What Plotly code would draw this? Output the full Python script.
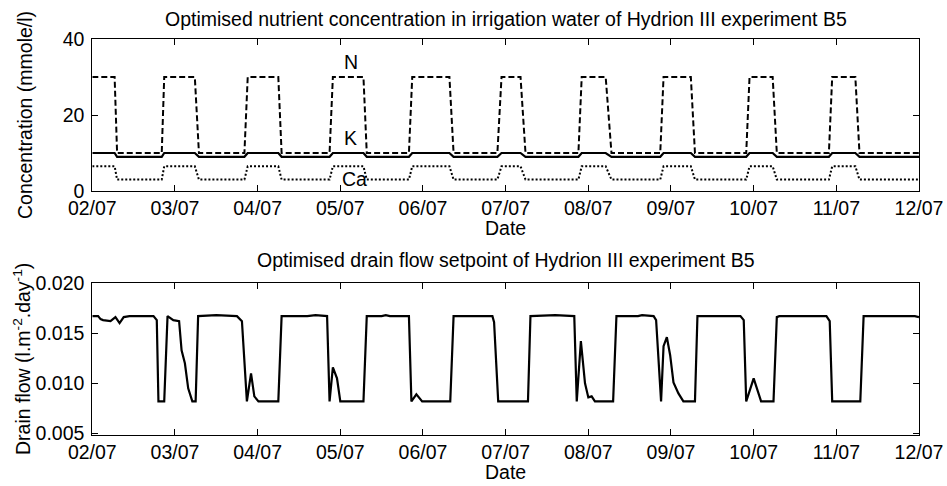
import pandas as pd
import plotly.graph_objects as go

# ---------------- data (days after 02/07 00:00) ----------------
t_top = [0.00, 0.27, 0.30, 0.84, 0.87, 1.24, 1.29, 1.84, 1.88, 2.25,
         2.29, 2.87, 2.91, 3.28, 3.32, 3.83, 3.87, 4.32, 4.37, 4.90,
         4.95, 5.18, 5.24, 5.88, 5.92, 6.21, 6.28, 6.87, 6.91, 7.24,
         7.29, 7.91, 7.95, 8.23, 8.28, 8.91, 8.95, 9.23, 9.28, 10.00]
n_conc = [30, 30, 10, 10, 30, 30, 10, 10, 30, 30,
          10, 10, 30, 30, 10, 10, 30, 30, 10, 10,
          30, 30, 10, 10, 30, 30, 10, 10, 30, 30,
          10, 10, 30, 30, 10, 10, 30, 30, 10, 10]
k_conc = [10, 10, 9, 9, 10, 10, 9, 9, 10, 10,
          9, 9, 10, 10, 9, 9, 10, 10, 9, 9,
          10, 10, 9, 9, 10, 10, 9, 9, 10, 10,
          9, 9, 10, 10, 9, 9, 10, 10, 9, 9]
ca_conc = [6.5, 6.5, 3, 3, 6.5, 6.5, 3, 3, 6.5, 6.5,
           3, 3, 6.5, 6.5, 3, 3, 6.5, 6.5, 3, 3,
           6.5, 6.5, 3, 3, 6.5, 6.5, 3, 3, 6.5, 6.5,
           3, 3, 6.5, 6.5, 3, 3, 6.5, 6.5, 3, 3]

t_flow = [0.00, 0.07, 0.10, 0.13, 0.22, 0.28, 0.33, 0.38, 0.45, 0.60,
          0.74, 0.78, 0.80, 0.87, 0.91, 0.98, 1.05, 1.08, 1.12, 1.16,
          1.21, 1.25, 1.28, 1.50, 1.75, 1.81, 1.87, 1.92, 1.96, 2.01,
          2.25, 2.29, 2.60, 2.70, 2.84, 2.87, 2.91, 2.96, 3.00, 3.28,
          3.32, 3.50, 3.55, 3.60, 3.83, 3.86, 3.92, 3.99, 4.33, 4.37,
          4.60, 4.84, 4.86, 4.91, 5.27, 5.30, 5.60, 5.83, 5.86, 5.91,
          5.96, 6.00, 6.04, 6.08, 6.30, 6.34, 6.60, 6.65, 6.79, 6.82,
          6.88, 6.91, 6.95, 6.99, 7.03, 7.09, 7.15, 7.29, 7.32, 7.50,
          7.84, 7.88, 7.91, 8.00, 8.09, 8.24, 8.28, 8.31, 8.88, 8.92,
          8.95, 9.29, 9.33, 9.60, 9.95, 10.00]
flow = [0.0167, 0.0167, 0.0164, 0.0163, 0.0162, 0.0166, 0.0160, 0.0166, 0.0167, 0.0167,
        0.0167, 0.0163, 0.0082, 0.0082, 0.0167, 0.0163, 0.0162, 0.0133, 0.0120, 0.0095,
        0.0082, 0.0082, 0.0167, 0.0168, 0.0167, 0.0162, 0.0082, 0.0110, 0.0087, 0.0082,
        0.0082, 0.0167, 0.0167, 0.0168, 0.0167, 0.0082, 0.0116, 0.0105, 0.0082, 0.0082,
        0.0167, 0.0167, 0.0168, 0.0167, 0.0167, 0.0082, 0.0089, 0.0082, 0.0082, 0.0167,
        0.0167, 0.0167, 0.0161, 0.0082, 0.0082, 0.0167, 0.0168, 0.0167, 0.0082, 0.0142,
        0.0100, 0.0086, 0.0087, 0.0082, 0.0082, 0.0167, 0.0167, 0.0168, 0.0167, 0.0163,
        0.0082, 0.0137, 0.0146, 0.0128, 0.0101, 0.0090, 0.0082, 0.0082, 0.0167, 0.0167,
        0.0167, 0.0163, 0.0082, 0.0105, 0.0082, 0.0082, 0.0166, 0.0167, 0.0167, 0.0162,
        0.0082, 0.0082, 0.0167, 0.0167, 0.0167, 0.0166]

start_date = pd.Timestamp("2004-07-02")
end_date = pd.Timestamp("2004-07-12")
x_top = start_date + pd.to_timedelta(t_top, unit="D")
x_flow = start_date + pd.to_timedelta(t_flow, unit="D")

top_title = "Optimised nutrient concentration in irrigation water of Hydrion III experiment B5"
bottom_title = "Optimised drain flow setpoint of Hydrion III experiment B5"

# ---------------- figure ----------------
W, H = 947, 486
FONT = "Liberation Sans, Arial, sans-serif"
FS = 19.5


def fx(p):
    return p / W


def fy(p):
    return 1 - p / H


fig = go.Figure()
fig.add_trace(go.Scatter(x=x_top, y=n_conc, mode="lines", name="N",
                         line=dict(color="black", width=2, dash="6px,3px"),
                         xaxis="x", yaxis="y"))
fig.add_trace(go.Scatter(x=x_top, y=k_conc, mode="lines", name="K",
                         line=dict(color="black", width=2.2),
                         xaxis="x", yaxis="y"))
fig.add_trace(go.Scatter(x=x_top, y=ca_conc, mode="lines", name="Ca",
                         line=dict(color="black", width=2, dash="2px,2px"),
                         xaxis="x", yaxis="y"))
fig.add_trace(go.Scatter(x=x_flow, y=flow, mode="lines", name="Drain flow",
                         line=dict(color="black", width=2.2),
                         xaxis="x2", yaxis="y2"))

axis_common = dict(showline=True, linecolor="black", linewidth=1, mirror="ticks",
                   ticks="inside", ticklen=6, tickcolor="black", tickwidth=1,
                   showgrid=False, zeroline=False, automargin=False,
                   tickfont=dict(family=FONT, size=FS, color="black"))

xdom = [fx(92.3), fx(919)]
fig.update_layout(
    template="none",
    width=W, height=H, autosize=False,
    margin=dict(l=0, r=0, t=0, b=0, pad=0),
    paper_bgcolor="white", plot_bgcolor="white",
    showlegend=False,
    font=dict(family=FONT, size=FS, color="black"),
    xaxis=dict(domain=xdom, anchor="y", type="date",
               range=[start_date, end_date], dtick=86400000,
               tick0=start_date, tickformat="%d/%m", ticklabelstandoff=0,
               **axis_common),
    yaxis=dict(domain=[fy(191), fy(39)], anchor="x", range=[0, 40],
               tickvals=[0, 20, 40], ticklabelstandoff=3, **axis_common),
    xaxis2=dict(domain=xdom, anchor="y2", type="date",
                range=[start_date, end_date], dtick=86400000,
                tick0=start_date, tickformat="%d/%m", ticklabelstandoff=0,
                **axis_common),
    yaxis2=dict(domain=[fy(435), fy(283)], anchor="x2", range=[0.00485, 0.020],
                tickvals=[0.005, 0.010, 0.015, 0.020], tickformat=".3f",
                ticklabelstandoff=3, **axis_common),
)

ann_font = dict(family=FONT, size=FS, color="black")
annotations = [
    dict(text=top_title, x=fx(505.5), y=fy(19), xref="paper", yref="paper",
         xanchor="center", yanchor="middle", showarrow=False, font=ann_font),
    dict(text=bottom_title, x=fx(505.5), y=fy(260), xref="paper", yref="paper",
         xanchor="center", yanchor="middle", showarrow=False, font=ann_font),
    dict(text="Date", x=fx(505.5), y=fy(228), xref="paper", yref="paper",
         xanchor="center", yanchor="middle", showarrow=False, font=ann_font),
    dict(text="Date", x=fx(505.5), y=fy(472), xref="paper", yref="paper",
         xanchor="center", yanchor="middle", showarrow=False, font=ann_font),
    dict(text="Concentration (mmole/l)", x=fx(25), y=fy(115), xref="paper", yref="paper",
         xanchor="center", yanchor="middle", textangle=-90, showarrow=False, font=ann_font),
    dict(text="Drain flow (l.m<sup>-2</sup>.day<sup>-1</sup>)", x=fx(22), y=fy(359),
         xref="paper", yref="paper", xanchor="center", yanchor="middle",
         textangle=-90, showarrow=False, font=ann_font),
    dict(text="N", x=fx(351), y=fy(61.5), xref="paper", yref="paper",
         xanchor="center", yanchor="middle", showarrow=False, font=ann_font),
    dict(text="K", x=fx(350), y=fy(137.5), xref="paper", yref="paper",
         xanchor="center", yanchor="middle", showarrow=False, font=ann_font),
    dict(text="Ca", x=fx(354), y=fy(179), xref="paper", yref="paper",
         xanchor="center", yanchor="middle", showarrow=False, font=ann_font),
]
fig.update_layout(annotations=annotations)

fig.write_html("out.html",
               config={"displayModeBar": False, "staticPlot": True},
               post_script="document.body.style.margin='0';"
                           "document.body.style.padding='0';"
                           "document.body.style.overflow='hidden';")
